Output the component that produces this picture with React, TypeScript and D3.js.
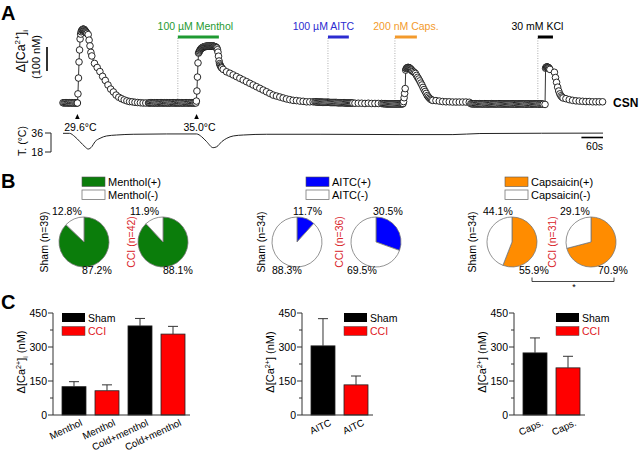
import React from 'react';
import * as d3 from 'd3';

const FONT = '"Liberation Sans", Arial, Helvetica, sans-serif';

// ---------------- Panel A: Ca2+ trace (nM), sampled segments ----------------
const baseline0 = [1, 0, 1, 1, 0, 0, 1, 0, 1, 0, 0, 1, 0, 0];
const coldRise = [0, 38, 104, 171, 221, 267, 287, 297, 302, 305, 307, 308, 307, 305, 302, 299, 296, 293, 290];
const coldFallFast = [285, 262, 238, 211];
const coldFall = [196, 165, 148, 131, 111, 94, 75, 58, 46, 33, 24, 18, 13, 9, 6, 5, 3, 2, 1, 0, 0, 0];
const baseline1 = [0, 1, 1, 0, 0, 1, 0, 1, 0, 0, 1, 1, 0, 0, 1, 0, 1, 0, 0, 1, 0, 1, 1, 0, 0, 1, 0, 0, 1, 0, 1, 0, 0, 1, 1, 0, 0, 1, 0, 1, 0, 0, 1];
const menthRise = [0, 8, 50, 108, 167, 208,
  212, 217, 221, 224, 227, 229, 231, 232, 233, 234, 235, 235, 236, 236, 236, 237, 237, 237, 237, 237,
  237, 237, 237, 237, 237, 237, 237, 236, 236, 235, 234, 233, 231, 229,
  222, 212, 195, 175, 164, 158, 153, 149, 146];
const menthFall = [140, 130, 124, 117, 110, 103, 96, 89, 82, 75, 68, 61, 54, 47, 40, 33, 29, 25, 21, 17, 14, 11, 10, 8, 7, 5, 5, 5];
const baseline2 = [5, 5, 4, 4, 4, 4, 4, 3, 3, 3, 3, 3, 3, 3, 2, 2, 2, 2, 2, 2, 2, 1, 1, 1, 1, 1, 1, 1, 0, 0, 0, 0, 0, 0, 0, 0];
const aitcTail = [-1, -1, -1, -2, -1, -2, -2, -2, -2];
const baseline3 = [-3, -3, -3, -4, -4, -4, -4, -4, -4, -4, -4, -4, -4, -4, -4, -4, -4, -4];
const capsRise = [-4, -2, 6, 22, 40, 60, 137, 143, 146, 147, 148, 148, 147, 146, 144, 142, 140, 137, 133];
const capsFall = [131, 127, 123, 115, 107, 100, 92, 83, 75, 65, 56, 48, 40, 31, 25, 20, 16, 13, 11];
const capsTail = [10, 8, 6, 5, 5, 4, 4, 4, 4, 4, 3];
const baseline4 = [-3, -3, -4, -4, -3, -4, -4, -4, -3, -4,
  -4, -4, -4, -3, -4, -4, -4, -4, -4, -3,
  -4, -4, -4, -4, -4, -4, -3, -4, -4, -4,
  -4, -4, -4, -4, -4, -4, -4, -4, -4, -4,
  -4, -4, -5, -4, -4, -4, -4, -4, -4, -4,
  -4, -5, -4, -4, -4, -4, -5, -4, -4, -4,
  -4, -4, -4, -5, -4, -4, -4, -5];
const kclRise = [-6, 145, 149, 150, 150, 149, 148, 146, 143, 140];
const kclFall = [128, 106, 86, 66, 50, 38, 30, 25, 21];
const kclTail = [18, 14, 11, 9, 8, 7, 6, 6, 5, 5, 5, 5];

const traceSegments = [
  { t0: 0, dt: 3, v: baseline0 },
  { t0: 40, dt: 1.5, v: coldRise },
  { t0: 70, dt: 2.5, v: coldFallFast },
  { t0: 80, dt: 7.5, v: coldFall },
  { t0: 240, dt: 3, v: baseline1 },
  { t0: 369, dt: 1.5, v: menthRise },
  { t0: 445, dt: 9.25, v: menthFall },
  { t0: 700, dt: 3, v: baseline2 },
  { t0: 811, dt: 9.25, v: aitcTail },
  { t0: 889, dt: 3, v: baseline3 },
  { t0: 943, dt: 1.5, v: capsRise },
  { t0: 973, dt: 3, v: capsFall },
  { t0: 1036, dt: 9.25, v: capsTail },
  { t0: 1133, dt: 3, v: baseline4 },
  { t0: 1339, dt: 1.5, v: kclRise },
  { t0: 1365, dt: 3, v: kclFall },
  { t0: 1397, dt: 9.25, v: kclTail },
];

// bath temperature (s, °C)
const tempTime = [0, 18, 33, 47, 61, 70, 80, 89, 103, 121, 149, 195, 288, 371, 385, 399, 417, 427, 441, 455, 473, 501, 566, 714, 936, 1083, 1158, 1500];
const tempC = [35.7, 35.7, 32.5, 27.8, 23, 20.8, 23, 27.8, 31, 33.2, 34.1, 34.8, 35.1, 35.1, 32.5, 27.8, 22.1, 23, 27.8, 31, 33.2, 34.1, 34.8, 34.8, 34.5, 34.5, 35.5, 35.9];

// stimuli
const stimLabels = ['100 µM Menthol', '100 µM AITC', '200 nM Caps.', '30 mM KCl'];
const stimStart = [319, 736, 922, 1319];
const stimEnd = [433, 794, 983, 1361];
const stimColors = ['#1f9a32', '#2b2bd0', '#f39a2c', '#000000'];
const thrTimes = [40, 371];
const thrLabels = ['29.6°C', '35.0°C'];

// ---------------- Panel B: pies ----------------
const pieNames = ['Menthol', 'AITC', 'Capsaicin'];
const pieColors = ['#0b7d0b', '#0000ff', '#ff8c00'];
const shamPos = [87.2, 11.7, 55.9];
const cciPos = [88.1, 30.5, 70.9];
const shamN = [39, 34, 34];
const cciN = [42, 36, 31];

// ---------------- Panel C: bars ----------------
const yTicksMajor = [0, 150, 300, 450];
const yTicksMinor = [75, 225, 375];
const mentholCats = ['Menthol', 'Menthol', 'Cold+menthol', 'Cold+menthol'];
const mentholGroups = ['Sham', 'CCI', 'Sham', 'CCI'];
const mentholVals = [125, 107, 393, 357];
const mentholErr = [22, 26, 33, 34];
const aitcCats = ['AITC', 'AITC'];
const aitcGroups = ['Sham', 'CCI'];
const aitcVals = [305, 133];
const aitcErr = [120, 39];
const capsCats = ['Caps.', 'Caps.'];
const capsGroups = ['Sham', 'CCI'];
const capsVals = [274, 208];
const capsErr = [66, 51];

// ---------------- layout ----------------
const pieCx = [84, 297, 512];
const pieDx = 79;
const pieCy = 242;
const pieR = 25;
const legendX = [82, 306, 505];
const nLabelOff = [[-36, -28], [-32, -33], [-36, -35]];
const topLblDx = [[-32, -33], [-4, -3], [-29, -31]];
const botLblDx = [[-2, 0], [-25, -29], [7, 7]];
const groupColor = { Sham: '#000000', CCI: '#ff0000' };

function CaLabel({ x, y, sub, suffix, size }) {
  return (
    <text transform={`translate(${x},${y}) rotate(-90)`} textAnchor="middle" fontSize={size} fontFamily={FONT}>
      <tspan>Δ[Ca</tspan>
      <tspan fontSize={size * 0.65} dy={-size * 0.4}>2+</tspan>
      <tspan dy={size * 0.4}>]</tspan>
      {sub ? <tspan fontSize={size * 0.65} dy={size * 0.25}>i</tspan> : null}
      {suffix ? <tspan dy={sub ? -size * 0.25 : 0}>{suffix}</tspan> : null}
    </text>
  );
}

function BarChart({ x0, cats, groups, vals, errs, legendBand, sub }) {
  const y = d3.scaleLinear().domain([0, 450]).range([415, 313]);
  const n = cats.length;
  const xb = d3.scaleBand().domain(d3.range(n).map(String)).range([x0 + 9, x0 + n * 33]).paddingInner(0.273).paddingOuter(0);
  const bw = xb.bandwidth();
  const xEnd = x0 + n * 33 + 5;
  const lx = xb(String(legendBand));
  return (
    <g fontFamily={FONT}>
      {vals.map((v, i) => {
        const bx = xb(String(i));
        const cx = bx + bw / 2;
        const g = groups[i];
        return (
          <g key={i}>
            <rect x={bx} y={y(v)} width={bw} height={y(0) - y(v)} fill={groupColor[g]} stroke="#222" strokeWidth={0.8} />
            <line x1={cx} x2={cx} y1={y(v)} y2={y(v + errs[i])} stroke="#333" strokeWidth={1} />
            <line x1={cx - 5} x2={cx + 5} y1={y(v + errs[i])} y2={y(v + errs[i])} stroke="#333" strokeWidth={1} />
            <text transform={`translate(${cx + 9},${425}) rotate(-25)`} textAnchor="end" fontSize={9.8}>{cats[i]}</text>
          </g>
        );
      })}
      <line x1={x0} x2={x0} y1={y(450)} y2={y(0)} stroke="#333" strokeWidth={1} />
      <line x1={x0} x2={xEnd} y1={y(0)} y2={y(0)} stroke="#333" strokeWidth={1} />
      {yTicksMajor.map(t => (
        <g key={t}>
          <line x1={x0 - 5} x2={x0} y1={y(t)} y2={y(t)} stroke="#333" strokeWidth={1} />
          <text x={x0 - 6} y={y(t) + 3.8} textAnchor="end" fontSize={10.5}>{t}</text>
        </g>
      ))}
      {yTicksMinor.map(t => (
        <line key={t} x1={x0 - 3} x2={x0} y1={y(t)} y2={y(t)} stroke="#333" strokeWidth={1} />
      ))}
      <CaLabel x={x0 - 28} y={362} sub={sub} suffix=" (nM)" size={11} />
      <rect x={lx} y={313} width={23} height={9} fill={groupColor.Sham} />
      <text x={lx + 26} y={321.5} fontSize={10.5} fill="#000">Sham</text>
      <rect x={lx} y={326.5} width={23} height={9} fill={groupColor.CCI} stroke="#444" strokeWidth={0.5} />
      <text x={lx + 26} y={335} fontSize={10.5} fill="#e0161e">CCI</text>
    </g>
  );
}

export default function App() {
  const xT = d3.scaleLinear().domain([0, 1500]).range([63, 603]);
  const yCa = d3.scaleLinear().domain([0, 300]).range([103, 31]);
  const yT = d3.scaleLinear().domain([18, 36]).range([152, 133]);

  const pts = [];
  traceSegments.forEach(s => s.v.forEach((v, i) => pts.push([s.t0 + i * s.dt, v])));
  const traceLine = d3.line().x(d => xT(d[0])).y(d => yCa(d[1]));
  const tempLine = d3.line().x(i => xT(tempTime[i])).y(i => yT(tempC[i])).curve(d3.curveMonotoneX);

  const pie = d3.pie().sort(null).value(d => d);
  const arc = d3.arc().innerRadius(0).outerRadius(pieR);

  return (
    <svg width={640} height={456} style={{ position: 'absolute', left: 0, top: 0, background: '#fff' }} fontFamily={FONT}>
      <rect width={640} height={456} fill="#fff" />
      {/* panel letters */}
      <text x={1} y={20} fontSize={20} fontWeight="bold">A</text>
      <text x={1} y={188} fontSize={20} fontWeight="bold">B</text>
      <text x={1} y={309} fontSize={20} fontWeight="bold">C</text>

      {/* ===== Panel A ===== */}
      <line x1={47} x2={47} y1={47} y2={47 + (yCa(0) - yCa(100))} stroke="#000" strokeWidth={1.6} />
      <CaLabel x={25} y={51} sub={true} suffix={null} size={12.5} />
      <text transform="translate(40,57) rotate(-90)" textAnchor="middle" fontSize={11}>(100 nM)</text>

      {stimLabels.map((s, i) => {
        const xs = xT(stimStart[i]);
        const xe = xT(stimEnd[i]);
        const labelDx = [-3, -15, 0, -8][i];
        return (
          <g key={s}>
            <line x1={xs} x2={xs} y1={38} y2={101} stroke="#999" strokeWidth={0.8} strokeDasharray="1 1.5" />
            <line x1={xs} x2={xe} y1={37} y2={37} stroke={stimColors[i]} strokeWidth={3} />
            <text x={(xs + xe) / 2 + labelDx} y={30} textAnchor="middle" fontSize={10.5} fill={stimColors[i]}>{s}</text>
          </g>
        );
      })}

      <path d={traceLine(pts)} fill="none" stroke="#000" strokeWidth={0.8} />
      {pts.map((p, i) => (
        <circle key={i} cx={xT(p[0])} cy={yCa(p[1])} r={3.3} fill="#fff" stroke="#111" strokeWidth={0.9} />
      ))}
      <text x={613} y={107} fontSize={12} fontWeight="bold">CSN</text>

      {thrTimes.map((t, i) => (
        <g key={t}>
          <path d={`M${xT(t)},114 L${xT(t) - 2.3},119 L${xT(t) + 2.3},119 Z`} fill="#000" />
          <text x={xT(t) + 3} y={131} textAnchor="middle" fontSize={10.5}>{thrLabels[i]}</text>
        </g>
      ))}

      <path d={tempLine(d3.range(tempTime.length))} fill="none" stroke="#222" strokeWidth={1} />
      <line x1={51} x2={51} y1={yT(36)} y2={yT(18)} stroke="#222" strokeWidth={1} />
      <line x1={45} x2={51} y1={yT(36)} y2={yT(36)} stroke="#222" strokeWidth={1} />
      <line x1={45} x2={51} y1={yT(18)} y2={yT(18)} stroke="#222" strokeWidth={1} />
      <text x={43} y={yT(36) + 3.8} textAnchor="end" fontSize={10.5}>36</text>
      <text x={43} y={yT(18) + 3.8} textAnchor="end" fontSize={10.5}>18</text>
      <text transform="translate(26,141) rotate(-90)" textAnchor="middle" fontSize={10.5}>T. (°C)</text>
      <line x1={xT(1440)} x2={xT(1500)} y1={137.5} y2={137.5} stroke="#000" strokeWidth={1.6} />
      <text x={xT(1500)} y={150} textAnchor="end" fontSize={10.5}>60s</text>

      {/* ===== Panel B ===== */}
      {pieNames.map((name, g) => (
        <g key={name}>
          <rect x={legendX[g]} y={177} width={23} height={9.5} fill={pieColors[g]} stroke="#555" strokeWidth={0.6} />
          <text x={legendX[g] + 26} y={185.5} fontSize={11}>{name}(+)</text>
          <rect x={legendX[g]} y={190} width={23} height={9.5} fill="#fff" stroke="#777" strokeWidth={0.8} />
          <text x={legendX[g] + 26} y={198.5} fontSize={11}>{name}(-)</text>
          {[0, 1].map(c => {
            const pos = c ? cciPos[g] : shamPos[g];
            const nn = c ? cciN[g] : shamN[g];
            const cx = pieCx[g] + c * pieDx;
            const arcs = pie([pos, 100 - pos]);
            const lo = Math.min(pos, 100 - pos);
            const hi = Math.max(pos, 100 - pos);
            return (
              <g key={c}>
                <g transform={`translate(${cx},${pieCy})`}>
                  {arcs.map((a, k) => (
                    <path key={k} d={arc(a)} fill={k === 0 ? pieColors[g] : '#fff'} stroke="#777" strokeWidth={0.8} />
                  ))}
                </g>
                <text transform={`translate(${cx + nLabelOff[g][c]},${pieCy}) rotate(-90)`} textAnchor="middle" fontSize={10.5} fill={c ? '#d9262c' : '#000'}>
                  {c ? 'CCI' : 'Sham'} (n={nn})
                </text>
                <text x={cx + topLblDx[g][c]} y={215} fontSize={10.5}>{lo.toFixed(1)}%</text>
                <text x={cx + botLblDx[g][c]} y={274} fontSize={10.5}>{hi.toFixed(1)}%</text>
              </g>
            );
          })}
        </g>
      ))}
      <path d="M532,277.5 L532,281.5 L614,281.5 L614,277.5" fill="none" stroke="#333" strokeWidth={0.9} />
      <text x={574} y={290} textAnchor="middle" fontSize={9}>*</text>

      {/* ===== Panel C ===== */}
      <BarChart x0={53} cats={mentholCats} groups={mentholGroups} vals={mentholVals} errs={mentholErr} legendBand={0} sub={true} />
      <BarChart x0={302} cats={aitcCats} groups={aitcGroups} vals={aitcVals} errs={aitcErr} legendBand={1} sub={false} />
      <BarChart x0={514} cats={capsCats} groups={capsGroups} vals={capsVals} errs={capsErr} legendBand={1} sub={false} />
    </svg>
  );
}
